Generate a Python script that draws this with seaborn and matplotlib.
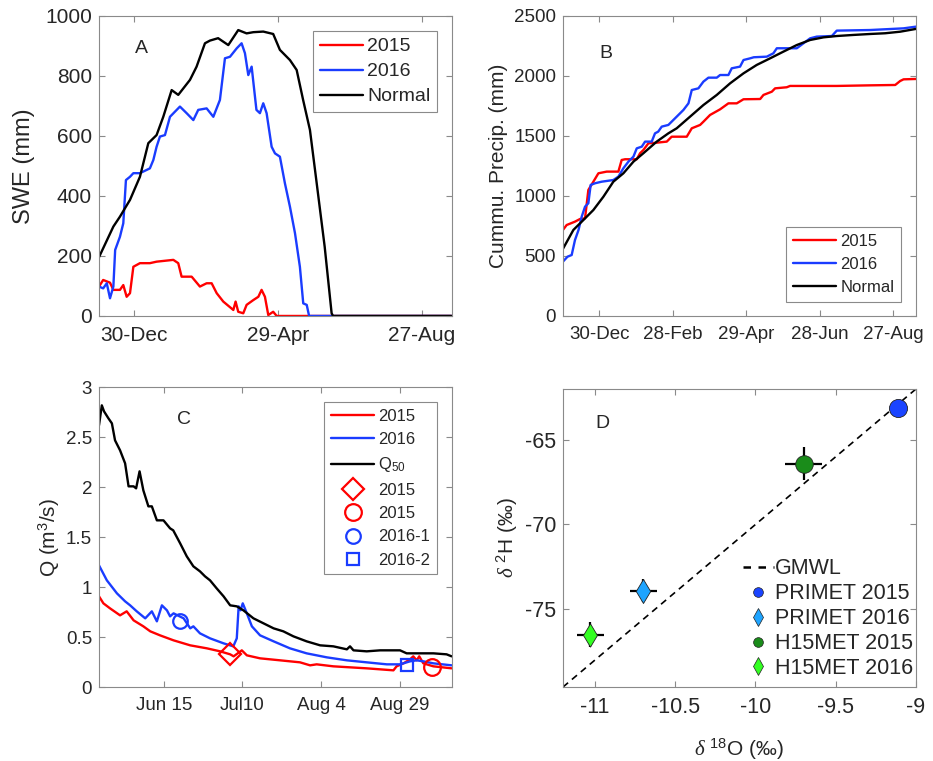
import numpy as np
import pandas as pd
import matplotlib
matplotlib.use('Agg')
import matplotlib.pyplot as plt
import matplotlib.dates as mdates
from matplotlib.lines import Line2D
from matplotlib.ticker import FuncFormatter
import seaborn as sns

sns.set_style('white')
plt.rcParams['font.family'] = ['Liberation Sans', 'DejaVu Sans']
plt.rcParams['mathtext.fontset'] = 'custom'
plt.rcParams['mathtext.rm'] = 'Liberation Sans'
plt.rcParams['mathtext.it'] = 'Liberation Serif:italic'
plt.rcParams['mathtext.bf'] = 'Liberation Sans:bold'

RED = '#ff0000'
BLUE = '#1a3cff'
GRAY = '#8a8a8a'

# ---- panel A : SWE, days after 30-Dec ----
a_origin = pd.Timestamp('2014-12-30')
a_days_2015 = [-29.5, -26, -20.3, -17.5, -12, -9.2, -6.4, -3.6, -0.8, 4.7, 13, 18.6, 32.6, 36.7, 39.5,
               47.9, 54.8, 60.4, 64.6, 68.8, 74.3, 82.7, 84.6, 86.8, 91, 93.8, 99.4, 103.6, 106.3, 109.1,
               111.9, 116, 118.9, 265]
a_swe_2015 = [98, 120, 111, 87, 87, 103, 64, 76, 164, 176, 176, 181, 187, 176, 131,
              131, 98, 109, 109, 76, 48, 20, 48, 14, 9, 37, 53, 64, 87, 64,
              3, 14, 0, 0]
a_days_2016 = [-29.5, -26, -23, -20.3, -17.5, -16, -12, -9.2, -7, -3.6, -0.8, 4.7, 13, 15.9, 18.6,
               21.4, 25.6, 29.8, 38.1, 43.7, 49.3, 53.4, 60.4, 66, 71.5, 75.7, 79.9, 85.5, 89.6, 92.4,
               95.2, 98, 102, 104.9, 107.7, 110.5, 114.7, 117.5, 121.6, 125.8, 130, 134.2, 138.3, 141.1,
               144, 146, 265]
a_swe_2016 = [98, 92, 109, 59, 98, 220, 264, 309, 453, 464, 476, 476, 492, 520, 564,
              598, 603, 664, 698, 676, 653, 687, 692, 664, 720, 859, 864, 892, 909, 876,
              803, 831, 687, 676, 709, 676, 564, 542, 531, 442, 364, 276, 164, 42,
              37, 0, 0]
a_days_norm = [-29.5, -17.5, -12, -3.6, 4.7, 11.7, 18.6, 24.2, 31.2, 36.7, 46.5, 52, 59, 63.2, 70,
               78.5, 86.8, 93.8, 99.4, 107.7, 116, 121.6, 130, 135.6, 141, 146.7, 152, 159, 164.8, 166, 265]
a_swe_norm = [196, 298, 331, 387, 464, 576, 603, 664, 753, 737, 787, 831, 909, 918, 926,
              903, 953, 942, 946, 948, 940, 887, 853, 820, 720, 620, 453, 231, 9, 0, 0]
a_ticks = ['2014-12-30', '2015-04-29', '2015-08-27']

# ---- panel B : cumulative precipitation ----
b_days_2015 = [-29.7, -26.7, -19.9, -15.8, -11.7, -9, -4.9, -0.8, 6, 15.5,
               18.2, 21, 30.5, 33.2, 35.9, 40, 46.8, 55, 59, 71.3,
               75.4, 82.2, 84.9, 90.3, 98.5, 105.3, 112.1, 117.6, 131.2, 133.9,
               140.7, 143.4, 152.9, 155.6, 193.7, 221, 241.4, 245.4, 248.2, 258.2]
b_pcp_2015 = [717, 758, 786, 808, 814, 1050, 1119, 1189, 1203, 1203,
              1300, 1306, 1306, 1356, 1383, 1439, 1444, 1453, 1494, 1494,
              1564, 1592, 1619, 1675, 1722, 1772, 1772, 1806, 1808, 1842,
              1869, 1897, 1906, 1917, 1917, 1922, 1925, 1958, 1972, 1975]
b_days_2016 = [-29.7, -26, -22.6, -19.9, -17, -14.4, -11.7, -9, -7.1, -3.5,
               1.9, 11.4, 15.5, 19.6, 23.7, 27.8, 30.5, 34.6, 37.3, 42.7,
               45.4, 48, 50.9, 56.3, 63.1, 68.6, 72.7, 75.4, 80.8, 84.9,
               89, 95.8, 98.5, 105.3, 108, 114.8, 117.6, 123, 126, 136.6,
               142, 144.8, 161.1, 166.5, 172, 177.4, 189.7, 193.7, 221, 248.2, 258.2]
b_pcp_2016 = [453, 494, 508, 633, 717, 828, 911, 939, 1092, 1106,
              1119, 1133, 1161, 1231, 1286, 1328, 1397, 1411, 1453, 1453,
              1522, 1536, 1578, 1592, 1661, 1717, 1772, 1883, 1897, 1953,
              1986, 1986, 2008, 2008, 2064, 2078, 2133, 2147, 2156, 2161,
              2189, 2231, 2231, 2272, 2314, 2328, 2333, 2378, 2383, 2397, 2411]
b_days_norm = [-29.7, -21.2, -13, -4.9, 3.3, 11.4, 19.6, 27.8, 35.9, 46.8,
               56.3, 63.1, 74, 84.9, 95.8, 106.7, 117.6, 128.4, 139.3, 150.2,
               161.1, 172, 182.9, 193.7, 207.3, 221, 233.2, 245.4, 258.2]
b_pcp_norm = [560, 717, 800, 883, 994, 1119, 1189, 1286, 1356, 1453,
              1522, 1564, 1661, 1758, 1842, 1939, 2022, 2092, 2147, 2203,
              2258, 2300, 2322, 2333, 2342, 2350, 2356, 2369, 2392]
b_ticks = ['2014-12-30', '2015-02-28', '2015-04-29', '2015-06-28', '2015-08-27']

# ---- panel C : discharge, days after Jun 15 ----
c_origin = pd.Timestamp('2015-06-15')
c_days_2015 = [-20.6, -19.2, -17.1, -13.9, -11.8, -9.6, -6.5, -4.3, -1.2, 3.1,
               8.4, 13.7, 17.9, 21.1, 22.2, 24.8, 26.4, 30.6, 37, 43.3,
               46.5, 48.6, 53.9, 64.5, 73, 74, 76.2, 78.3, 79.3, 80.4,
               81.2, 82.5, 85.7, 91.5]
c_q_2015 = [0.91, 0.84, 0.79, 0.72, 0.76, 0.67, 0.61, 0.56, 0.52, 0.47,
            0.42, 0.39, 0.36, 0.33, 0.31, 0.37, 0.32, 0.29, 0.27, 0.25,
            0.22, 0.23, 0.21, 0.19, 0.17, 0.21, 0.24, 0.28, 0.31, 0.27,
            0.31, 0.24, 0.21, 0.19]
c_days_2016 = [-20.6, -18.1, -14.9, -12.3, -10.7, -8.6, -5.9, -3.8, -2.2, -0.6,
               1, 2, 3.1, 6.3, 8.4, 9.4, 11.5, 14.7, 19, 22.1,
               23.2, 23.8, 24.4, 25.1, 26.4, 28, 30.6, 34.9, 40.1, 45.4,
               51.8, 58.2, 64.5, 70.9, 75.1, 78.3, 80.4, 82.5, 85.7, 91.5]
c_q_2016 = [1.22, 1.07, 0.94, 0.86, 0.82, 0.76, 0.69, 0.76, 0.66, 0.82,
            0.77, 0.71, 0.74, 0.69, 0.59, 0.61, 0.54, 0.49, 0.44, 0.41,
            0.49, 0.81, 0.77, 0.84, 0.74, 0.61, 0.52, 0.46, 0.39, 0.34,
            0.30, 0.27, 0.25, 0.23, 0.23, 0.26, 0.27, 0.26, 0.24, 0.22]
c_days_q50 = [-20.6, -19.7, -19, -17.6, -16.5, -15.5, -13.9, -12.3, -11.2, -9.6,
              -8.8, -7.7, -6.5, -4.9, -3.8, -2.2, -0.1, 2, 3, 5.2,
              7.3, 9.4, 11.5, 13.1, 14.7, 16.8, 19, 21.1, 23.2, 25.3,
              28.5, 31.7, 34.9, 38, 41.2, 45.4, 49.7, 53.9, 58.2, 59.2,
              60.3, 64.5, 68.8, 75.1, 77.2, 85.7, 89.9, 91.5]
c_q_q50 = [2.62, 2.82, 2.76, 2.69, 2.64, 2.47, 2.37, 2.24, 2.01, 2.01,
           1.99, 2.16, 1.97, 1.81, 1.81, 1.67, 1.67, 1.59, 1.57, 1.44,
           1.31, 1.21, 1.16, 1.11, 1.07, 0.99, 0.91, 0.82, 0.81, 0.77,
           0.69, 0.64, 0.59, 0.56, 0.51, 0.46, 0.42, 0.41, 0.38, 0.41,
           0.37, 0.36, 0.37, 0.37, 0.34, 0.34, 0.33, 0.31]
c_sample_labels = ['2015', '2015', '2016-1', '2016-2']
c_sample_days = [21.1, 85.4, 5.2, 77.4]
c_sample_q = [0.33, 0.20, 0.66, 0.22]
c_ticks = ['2015-06-15', '2015-07-10', '2015-08-04', '2015-08-29']
c_tick_labels = ['Jun 15', 'Jul10', 'Aug 4', 'Aug 29']

# ---- panel D : isotopes ----
d_labels = ['PRIMET 2015', 'PRIMET 2016', 'H15MET 2015', 'H15MET 2016']
d_o18 = [-9.11, -10.70, -9.70, -11.03]
d_h2 = [-63.1, -73.9, -66.4, -76.5]
d_o18_err = [0.03, 0.085, 0.115, 0.085]
d_h2_err = [0.4, 0.7, 1.0, 0.75]
d_colors = ['#1a44ff', '#1ea4ff', '#1a8c1a', '#33ff22']
gmwl_slope, gmwl_icpt = 8, 10


def as_dates(origin, days):
    return origin + pd.to_timedelta(np.asarray(days, dtype=float), unit='D')


def style_axes(ax, tick_size):
    for s in ax.spines.values():
        s.set_visible(True)
        s.set_color(GRAY)
        s.set_linewidth(0.8)
    ax.tick_params(direction='in', length=4, width=0.8, color=GRAY, labelcolor='#262626',
                   labelsize=tick_size, top=True, right=True, bottom=True, left=True)
    ax.tick_params(axis='x', pad=7)
    ax.tick_params(axis='y', pad=5)
    ax.grid(False)
    ax.set_xlabel('')


def make_legend(ax, handles, labels, size, **kw):
    leg = ax.legend(handles, labels, fontsize=size, borderaxespad=0, fancybox=False,
                    edgecolor=GRAY, framealpha=1, **kw)
    leg.get_frame().set_linewidth(0.8)
    return leg


fig = plt.figure(figsize=(9.33, 7.61), dpi=100)
axA = fig.add_axes([0.1061, 0.5848, 0.3783, 0.3942])
axB = fig.add_axes([0.6034, 0.5848, 0.3783, 0.3942])
axC = fig.add_axes([0.1061, 0.0968, 0.3783, 0.3942])
axD = fig.add_axes([0.6034, 0.0972, 0.3783, 0.3916])
lw = 1.7

# A
hA = []
for d, v, c in [(a_days_2015, a_swe_2015, RED), (a_days_2016, a_swe_2016, BLUE),
                (a_days_norm, a_swe_norm, 'k')]:
    sns.lineplot(x=as_dates(a_origin, d), y=v, ax=axA, color=c, linewidth=lw,
                 estimator=None, sort=False)
    hA.append(axA.lines[-1])
axA.set_xlim(as_dates(a_origin, [-29.5, 265.3]))
axA.set_ylim(0, 1000)
axA.set_xticks(pd.to_datetime(a_ticks))
axA.xaxis.set_major_formatter(mdates.DateFormatter('%d-%b'))
axA.set_yticks([0, 200, 400, 600, 800, 1000])
style_axes(axA, 15)
axA.set_ylabel('SWE (mm)', fontsize=17)
axA.yaxis.set_label_coords(-0.181, 0.5)
axA.text(0.121, 0.892, 'A', transform=axA.transAxes, ha='center', va='center', fontsize=14)
make_legend(axA, hA, ['2015', '2016', 'Normal'], 14, loc='upper right',
            bbox_to_anchor=(0.958, 0.95), handlelength=2.2, handletextpad=0.22,
            labelspacing=0.38, borderpad=0.35)

# B
hB = []
for d, v, c in [(b_days_2015, b_pcp_2015, RED), (b_days_2016, b_pcp_2016, BLUE),
                (b_days_norm, b_pcp_norm, 'k')]:
    sns.lineplot(x=as_dates(a_origin, d), y=v, ax=axB, color=c, linewidth=lw,
                 estimator=None, sort=False)
    hB.append(axB.lines[-1])
axB.set_xlim(as_dates(a_origin, [-29.7, 258.3]))
axB.set_ylim(0, 2500)
axB.set_xticks(pd.to_datetime(b_ticks))
axB.xaxis.set_major_formatter(mdates.DateFormatter('%d-%b'))
axB.set_yticks([0, 500, 1000, 1500, 2000, 2500])
style_axes(axB, 13.5)
axB.set_ylabel('Cummu. Precip. (mm)', fontsize=15)
axB.yaxis.set_label_coords(-0.156, 0.5)
axB.text(0.122, 0.876, 'B', transform=axB.transAxes, ha='center', va='center', fontsize=14)
make_legend(axB, hB, ['2015', '2016', 'Normal'], 12, loc='lower right',
            bbox_to_anchor=(0.958, 0.047), handlelength=2.6, handletextpad=0.24,
            labelspacing=0.5, borderpad=0.4)

# C
hC = []
for d, v, c in [(c_days_2015, c_q_2015, RED), (c_days_2016, c_q_2016, BLUE),
                (c_days_q50, c_q_q50, 'k')]:
    sns.lineplot(x=as_dates(c_origin, d), y=v, ax=axC, color=c, linewidth=lw,
                 estimator=None, sort=False)
    hC.append(axC.lines[-1])
sample_style = [('D', RED, 11), ('o', RED, 12), ('o', BLUE, 10.5), ('s', BLUE, 8.5)]
sample_dates = as_dates(c_origin, c_sample_days)
for i, (m, c, ms) in enumerate(sample_style):
    axC.plot([sample_dates[i]], [c_sample_q[i]], linestyle='none', marker=m, ms=ms,
             mfc='none', mec=c, mew=1.6, zorder=4)
    hC.append(Line2D([], [], linestyle='none', marker=m, ms=ms, mfc='none', mec=c, mew=1.6))
axC.set_xlim(as_dates(c_origin, [-20.6, 91.6]))
axC.set_ylim(0, 3)
axC.set_xticks(pd.to_datetime(c_ticks))
axC.set_xticklabels(c_tick_labels)
axC.set_yticks([0, 0.5, 1, 1.5, 2, 2.5, 3])
axC.yaxis.set_major_formatter(FuncFormatter(lambda v, p: f'{v:g}'))
style_axes(axC, 13.5)
axC.set_ylabel('Q (m$^3$/s)', fontsize=15)
axC.yaxis.set_label_coords(-0.105, 0.5)
axC.text(0.24, 0.893, 'C', transform=axC.transAxes, ha='center', va='center', fontsize=14)
make_legend(axC, hC, ['2015', '2016', 'Q$_{50}$'] + c_sample_labels, 12, loc='upper right',
            bbox_to_anchor=(0.958, 0.951), handlelength=2.6, handletextpad=0.24,
            labelspacing=0.5, borderpad=0.4)

# D
axD.axline((0, gmwl_icpt), slope=gmwl_slope, color='k', linewidth=1.2,
           linestyle=(0, (4, 3)), zorder=1)
axD.errorbar(d_o18, d_h2, xerr=d_o18_err, yerr=d_h2_err, fmt='none', ecolor='k',
             elinewidth=1.6, capsize=0, zorder=2)
d_markers = ['o', 'd', 'o', 'd']
d_sizes = [170, 150, 160, 140]
for i in range(4):
    sns.scatterplot(x=[d_o18[i]], y=[d_h2[i]], ax=axD, marker=d_markers[i], s=d_sizes[i],
                    color=d_colors[i], edgecolor='#222222', linewidth=0.6, zorder=3)
hD = [Line2D([], [], color='k', linewidth=1.8, linestyle=(0, (3, 3)))]
for i in range(4):
    hD.append(Line2D([], [], linestyle='none', marker=d_markers[i],
                     ms=7 if d_markers[i] == 'o' else 9, mfc=d_colors[i],
                     mec='#222222', mew=0.5))
axD.set_xlim(-11.2, -9)
axD.set_ylim(-79.6, -62)
axD.set_xticks([-11, -10.5, -10, -9.5, -9])
axD.set_yticks([-75, -70, -65])
axD.xaxis.set_major_formatter(FuncFormatter(lambda v, p: f'{v:g}'))
axD.yaxis.set_major_formatter(FuncFormatter(lambda v, p: f'{v:g}'))
style_axes(axD, 15.5)
axD.set_xlabel(r'$\delta$ $^{18}$O (‰)', fontsize=15)
axD.xaxis.set_label_coords(0.5, -0.168)
axD.set_ylabel(r'$\delta$ $^{2}$H (‰)', fontsize=15)
axD.yaxis.set_label_coords(-0.122, 0.5)
axD.text(0.112, 0.883, 'D', transform=axD.transAxes, ha='center', va='center', fontsize=14)
axD.legend(hD, ['GMWL'] + d_labels, fontsize=15.5, frameon=False, loc='lower right',
           bbox_to_anchor=(0.998, 0.02), borderaxespad=0, borderpad=0.1,
           handlelength=1.45, handletextpad=0.05, labelspacing=0.18)

fig.savefig('out.png', dpi=100)
